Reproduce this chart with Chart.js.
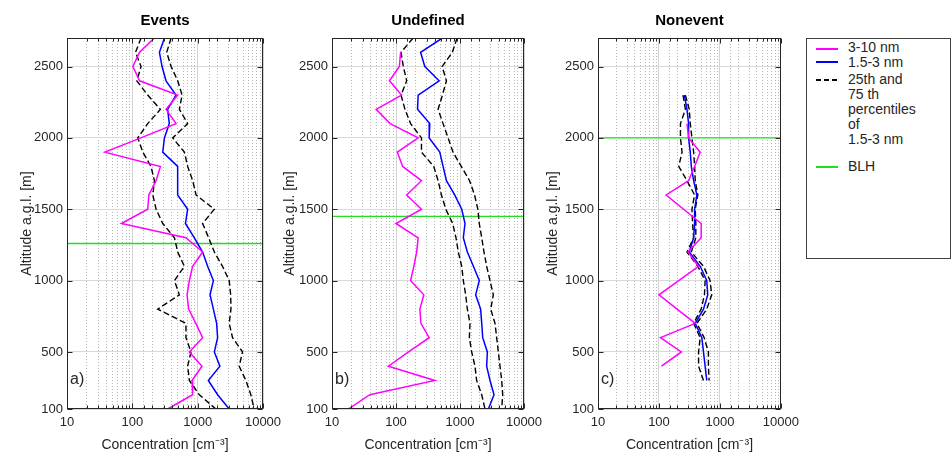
<!DOCTYPE html>
<html>
<head>
<meta charset="utf-8">
<script src="https://cdn.jsdelivr.net/npm/chart.js@4.4.0/dist/chart.umd.min.js"></script>
<style>
  body { margin:0; background:#fff; width:952px; height:454px; overflow:hidden; position:relative; font-family:"Liberation Sans", Arial, sans-serif; }
  canvas { position:absolute; top:0; }
  #legend { position:absolute; left:806px; top:38px; width:143px; height:219px; border:1px solid #404040; background:#fff; color:#262626; font-size:14px; }
  .ln { position:absolute; left:9px; width:22px; height:2px; }
  .dash { position:absolute; left:9px; width:22px; height:2px;
          background:repeating-linear-gradient(90deg, #000 0 5px, transparent 5px 8px); }
  .tx { position:absolute; left:41px; line-height:15px; white-space:nowrap; }
</style>
</head>
<body>
<canvas id="cA" width="292" height="454" style="left:0px"></canvas>
<canvas id="cB" width="285" height="454" style="left:268px"></canvas>
<canvas id="cC" width="270" height="454" style="left:535px"></canvas>

<div id="legend">
  <div class="ln" style="top:9px;background:#ff00ff"></div>
  <div class="tx" style="top:1px">3-10 nm</div>
  <div class="ln" style="top:22px;background:#0000ff"></div>
  <div class="tx" style="top:16px">1.5-3 nm</div>
  <div class="dash" style="top:40px"></div>
  <div class="tx" style="top:33px">25th and<br>75 th<br>percentiles<br>of<br>1.5-3 nm</div>
  <div class="ln" style="top:127px;background:#22dd22"></div>
  <div class="tx" style="top:120px">BLH</div>
</div>

<script>
// altitude levels (m a.g.l.)
const altAB = [2700,2600,2500,2400,2300,2200,2100,2000,1900,1800,1700,1600,1500,1400,1300,1200,1100,1000,900,800,700,600,500,400,300,200,100];
const altBMag = altAB.slice(1);
const altC = [2300,2200,2100,2000,1900,1800,1700,1600,1500,1400,1300,1200,1100,1000,900,800,700,600,500,400,300];
const altCMag = [2100,2000,1900,1800,1700,1600,1500,1400,1300,1200,1100,1000,900,800,700,600,500,400];

// a) Events
const evMag = [218,129,102,129,495,329,467,135,38,269,231,179,172,68,662,1190,837,746,688,728,937,1190,746,1164,819,837,348];
const evBlue = [310,260,285,328,466,347,368,310,292,494,494,494,703,650,890,1190,1420,1740,1547,1740,1950,2020,1800,2190,1457,2020,3040];
const evP25 = [136,112,136,117,172,269,172,121,145,193,218,206,231,292,441,495,626,441,525,245,662,662,790,703,746,1060,1900];
const evP75 = [392,336,392,495,577,525,703,415,626,703,840,944,1800,1190,1473,1800,2400,3040,3200,3230,3040,3420,4860,4320,5470,6510,7330];

// b) Undefined
const unMag = [118,113,79,122,49,81,222,105,127,250,147,250,100,222,210,190,169,272,236,245,330,157,76,404,39,18];
const unBlue = [531,242,282,472,222,217,337,330,483,544,614,826,1065,1197,1127,1303,1620,2000,1757,2100,2185,2265,2675,2610,2944,3400,2775];
const unP25 = [185,120,130,147,120,138,169,250,250,389,455,513,600,769,866,941,1065,1127,1227,1303,1433,1400,1522,1713,1820,2185,2455];
const unP75 = [900,760,525,614,531,455,544,651,778,1047,1412,1690,1900,2000,2185,2370,2610,2944,3316,3020,3525,3740,3970,4220,4480,4650,4480];

// c) Nonevent
const neMag = [288,306,474,384,306,131,254,492,492,299,446,211,100,198,393,106,233,110];
const neBlue = [261,288,306,306,326,339,370,419,384,384,370,314,474,608,631,537,393,505,537,571,608];
const neP25 = [248,271,225,225,239,211,288,384,347,356,370,288,434,571,557,492,370,474,446,446,537];
const neP75 = [271,314,326,347,370,384,393,434,393,402,402,339,537,688,733,608,419,551,647,647,664];

const blh = [1260, 1450, 2000];
const titles = ['Events', 'Undefined', 'Nonevent'];
const letters = ['a)', 'b)', 'c)'];
const yTicks = [100, 500, 1000, 1500, 2000, 2500];
const xMin = 10, xMax = 10000;

const FONT = '"Liberation Sans", Arial, sans-serif';
Chart.defaults.font.family = FONT;
Chart.defaults.color = '#262626';

const pts = (xs, ys) => xs.map((v, i) => ({x: v, y: ys[i]}));
const isDecade = v => { const l = Math.log10(v); return Math.abs(l - Math.round(l)) < 1e-6; };

const boxPlugin = {
  id: 'box',
  afterDatasetsDraw(chart, args, opts) {
    const {ctx, chartArea: a, scales: {x, y}} = chart;
    ctx.save();
    ctx.strokeStyle = '#262626';
    ctx.lineWidth = 1;
    const L = Math.round(a.left) + 0.5, R = Math.round(a.right) - 0.5;
    const T = Math.round(a.top) + 0.5, B = Math.round(a.bottom) - 0.5;
    ctx.beginPath();
    x.ticks.forEach(t => {
      const px = Math.round(x.getPixelForValue(t.value)) + 0.5;
      const len = t.major ? 5 : 3;
      ctx.moveTo(px, B); ctx.lineTo(px, B - len);
      ctx.moveTo(px, T); ctx.lineTo(px, T + len);
    });
    y.ticks.forEach(t => {
      const py = Math.round(y.getPixelForValue(t.value)) + 0.5;
      ctx.moveTo(L, py); ctx.lineTo(L + 5, py);
      ctx.moveTo(R, py); ctx.lineTo(R - 5, py);
    });
    ctx.stroke();
    ctx.strokeRect(L, T, R - L, B - T);
    ctx.fillStyle = '#262626';
    ctx.font = '16px ' + FONT;
    ctx.textBaseline = 'middle';
    ctx.fillText(opts.label, a.left + 3, a.bottom - 29);
    ctx.restore();
  }
};

function makePanel(id, k, series, layout) {
  const line = (data, color, width, dash) => ({
    data, borderColor: color, borderWidth: width, borderDash: dash || [],
    showLine: true, pointRadius: 0, fill: false, tension: 0
  });
  const datasets = [
    line(series.mag, '#ff00ff', 1.5),
    line(series.blue, '#0000ff', 1.5),
    line(series.p25, '#000000', 1.4, [6, 3]),
    line(series.p75, '#000000', 1.4, [6, 3]),
    line([{x: xMin, y: blh[k]}, {x: xMax, y: blh[k]}], '#22dd22', 1.3)
  ];
  new Chart(document.getElementById(id), {
    type: 'scatter',
    data: {datasets},
    plugins: [boxPlugin],
    options: {
      responsive: false,
      animation: false,
      devicePixelRatio: 1,
      layout: {padding: {left: 0, right: layout.right, top: 0, bottom: 0}},
      plugins: {
        legend: {display: false},
        tooltip: {enabled: false},
        title: {display: true, text: titles[k], fullSize: false, color: '#000',
                font: {size: 15, weight: 'bold'}, padding: {top: 12, bottom: 8}},
        box: {label: letters[k]}
      },
      scales: {
        x: {
          type: 'logarithmic', min: xMin, max: xMax,
          afterFit: s => { s.height = 45; },
          grid: {
            drawTicks: false,
            color: c => (c.tick && !c.tick.major) ? '#b8b8b8' : '#d2d2d2',
            lineWidth: 1
          },
          border: {display: false, dash: c => (c.tick && !c.tick.major) ? [1, 2] : []},
          ticks: {
            autoSkip: false, maxRotation: 0, minRotation: 0, padding: 6,
            font: {size: 13},
            callback: v => isDecade(v) ? String(Math.round(v)) : ''
          },
          title: {display: true, text: 'Concentration [cm⁻³]', font: {size: 14},
                  padding: {top: 0, bottom: 0}}
        },
        y: {
          type: 'linear', min: 100, max: 2700,
          afterFit: s => { s.width = layout.yw; },
          afterBuildTicks: s => { s.ticks = yTicks.map(v => ({value: v})); },
          grid: {drawTicks: false, color: '#d9d9d9'},
          border: {display: false},
          ticks: {padding: 4, font: {size: 13}, callback: v => String(v)},
          title: {display: true, text: 'Altitude a.g.l. [m]', font: {size: 14},
                  padding: {top: layout.tp, bottom: 0}}
        }
      }
    }
  });
}

makePanel('cA', 0, {mag: pts(evMag, altAB), blue: pts(evBlue, altAB), p25: pts(evP25, altAB), p75: pts(evP75, altAB)},
  {yw: 67, right: 29, tp: 18.6});
makePanel('cB', 1, {mag: pts(unMag, altBMag), blue: pts(unBlue, altAB), p25: pts(unP25, altAB), p75: pts(unP75, altAB)},
  {yw: 64, right: 29, tp: 13.6});
makePanel('cC', 2, {mag: pts(neMag, altCMag), blue: pts(neBlue, altC), p25: pts(neP25, altC), p75: pts(neP75, altC)},
  {yw: 63, right: 22, tp: 9.6});
</script>
</body>
</html>
